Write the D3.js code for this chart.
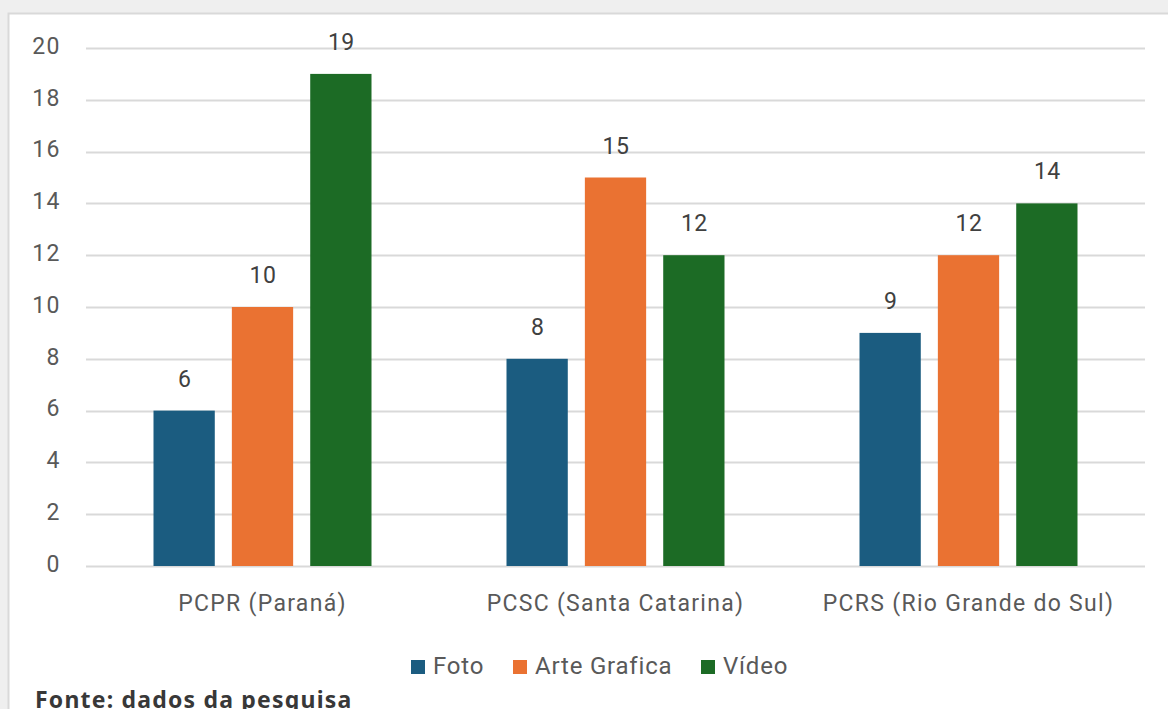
<!DOCTYPE html>
<html><head><meta charset="utf-8">
<script src="https://cdn.jsdelivr.net/npm/d3@7"></script>
<style>
html,body{margin:0;padding:0;background:#efefef;overflow:hidden;}
svg{display:block;}
</style></head>
<body>
<svg id="chart" width="1168" height="709"></svg>
<script>
const categories = ["PCPR (Paraná)", "PCSC (Santa Catarina)", "PCRS (Rio Grande do Sul)"];
const seriesNames = ["Foto", "Arte Grafica", "Vídeo"];
const foto = [6, 8, 9];
const arteGrafica = [10, 15, 12];
const video = [19, 12, 14];
const yTicks = [0, 2, 4, 6, 8, 10, 12, 14, 16, 18, 20];
const colors = ["#1b5c80", "#ea7232", "#1c6b25"];
const seriesValues = [foto, arteGrafica, video];

(function() {
const FONT = "Roboto, 'Open Sans', sans-serif";
const svg = d3.select("#chart");
// panel
svg.append("rect").attr("x", 8.5).attr("y", 13.5).attr("width", 1170).attr("height", 720)
  .attr("fill", "#fff").attr("stroke", "#d9d9d9").attr("stroke-width", 2);

const mLeft = 86, mRight = 1145, mTop = 48, mBottom = 566;
const y = d3.scaleLinear().domain([0, 20]).range([mBottom, mTop]);
const x0 = d3.scaleBand().domain(categories).range([mLeft, mRight]).paddingInner(0).paddingOuter(0);
const groupW = 218;
const x1 = d3.scaleBand().domain(seriesNames).range([0, groupW]).paddingInner(17 / 78);

// grid
svg.append("g").selectAll("line").data(yTicks).join("line")
  .attr("x1", mLeft).attr("x2", mRight)
  .attr("y1", d => Math.round(y(d)) + 0.5).attr("y2", d => Math.round(y(d)) + 0.5)
  .attr("stroke", "#d9d9d9").attr("stroke-width", 2);

// y axis labels
const yAxis = d3.axisLeft(y).tickValues(yTicks).tickSize(0).tickPadding(0);
const ya = svg.append("g").attr("transform", `translate(61,-2)`).call(yAxis);
ya.select(".domain").remove();
ya.selectAll("text").attr("font-family", FONT).attr("font-size", 23)
  .attr("letter-spacing", 1.5).attr("fill", "#595959");

// bars
const groups = svg.append("g").selectAll("g").data(categories).join("g")
  .attr("transform", c => `translate(${x0(c) + (x0.bandwidth() - groupW) / 2},0)`);
groups.each(function(c, ci) {
  const g = d3.select(this);
  seriesNames.forEach((s, si) => {
    const v = seriesValues[si][ci];
    g.append("rect").attr("x", x1(s)).attr("y", y(v)).attr("width", x1.bandwidth())
      .attr("height", y(0) - y(v)).attr("fill", colors[si]);
    g.append("text").attr("x", x1(s) + x1.bandwidth() / 2 + 0.5).attr("y", y(v) - 24)
      .attr("text-anchor", "middle").attr("font-family", FONT)
      .attr("font-size", 23).attr("letter-spacing", 0.5).attr("fill", "#404040").text(v);
  });
});

// x axis labels
const xAxis = d3.axisBottom(x0).tickSize(0).tickPadding(0);
const xa = svg.append("g").attr("transform", `translate(0,611)`).call(xAxis);
xa.select(".domain").remove();
xa.selectAll("text").attr("font-family", FONT).attr("font-size", 23)
  .attr("letter-spacing", 1.3).attr("fill", "#595959").attr("dy", 0);

// legend
const legendItems = [
  {name: seriesNames[0], x: 411},
  {name: seriesNames[1], x: 513},
  {name: seriesNames[2], x: 701}
];
const lg = svg.append("g");
legendItems.forEach((it, i) => {
  lg.append("rect").attr("x", it.x).attr("y", 660).attr("width", 14).attr("height", 14).attr("fill", colors[i]);
  lg.append("text").attr("x", it.x + 22).attr("y", 674).attr("font-family", FONT)
    .attr("font-size", 24).attr("letter-spacing", 0.8).attr("fill", "#595959").text(it.name);
});

// source
svg.append("text").attr("x", 35).attr("y", 708).attr("font-family", "'Noto Sans', 'Open Sans', sans-serif")
  .attr("font-weight", "bold").attr("font-size", 23).attr("letter-spacing", 1.2)
  .attr("fill", "#383838").text("Fonte: dados da pesquisa");
})();
</script>
</body></html>
